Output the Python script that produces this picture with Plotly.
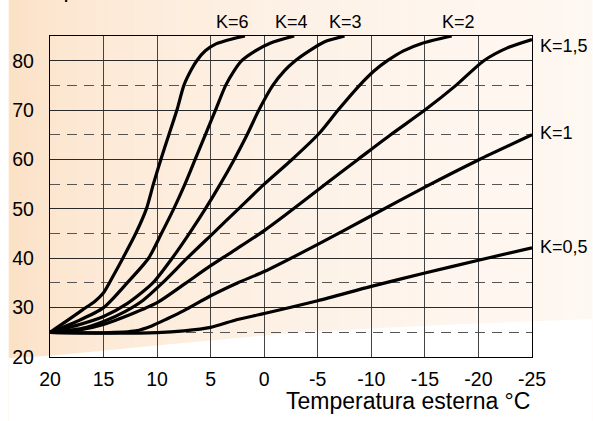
import plotly.graph_objects as go

# ---------------- data ----------------
x_k6 = [20, 18.5, 17, 15.8, 15, 14, 13.2, 12, 11, 10.35, 9.65, 8.9, 8.15, 7.5, 6.8, 6.3, 5.5, 4.5, 3.0, 1.8]
y_k6 = [25, 27.2, 29.5, 31.3, 33, 36.8, 40, 45, 50, 55, 60, 65, 70, 75, 78.2, 80, 82, 83.4, 84.4, 85]

x_k4 = [20, 17.5, 15, 12.8, 10.8, 9.6, 8.45, 7.4, 6.45, 5.5, 4.55, 3.6, 2.8, 2.1, 0.9, -0.6, -2.8]
y_k4 = [25, 27.2, 30, 35, 40, 45, 50, 55, 60, 65, 70, 75, 78, 80, 81.9, 83.6, 85]

x_k3 = [20, 17.5, 15, 12.8, 10.4, 8.6, 7.0, 5.5, 4.1, 2.8, 1.6, 0.5, -0.8, -1.9, -2.9, -4.2, -5.6, -7.5]
y_k3 = [25, 26.4, 28.2, 30.8, 35, 40, 45, 50, 55, 60, 65, 70, 75, 78, 80, 82, 83.8, 85]

x_k2 = [20, 17, 15, 13, 11.3, 9.5, 7.2, 4.8, 2.4, 0, -2.6, -5.1, -6.9, -8.9, -10.3, -11.5, -13, -14.7, -17.5]
y_k2 = [25, 25.8, 27.2, 29.2, 31.5, 35, 40, 45, 50, 55, 60, 65.2, 70, 75, 78, 80, 82, 83.5, 85]

x_k15 = [20, 17, 15, 12.5, 10, 7.5, 5, 2.5, 0, -2, -5.7, -8.75, -11.8, -15, -17.9, -20.5, -22.7, -25]
y_k15 = [25, 25.6, 26.6, 28.6, 31, 34.7, 38.5, 42, 45.6, 48.8, 55, 60, 65, 70, 75, 80, 82.6, 84.3]

x_k1 = [20, 15, 12, 10.5, 9, 7.5, 5, 2.5, 0, -5, -10, -15, -20, -25]
y_k1 = [25, 24.9, 25.3, 26.3, 27.8, 29.4, 32.4, 35, 37.3, 42.8, 48.6, 54.4, 59.9, 65]

x_k05 = [20, 15, 10, 7.5, 5, 2.5, 0, -5, -10, -15, -20, -25]
y_k05 = [25, 24.85, 24.95, 25.3, 26.0, 27.6, 28.8, 31.4, 34.3, 37, 39.6, 42.1]

curve_names = ["K=6", "K=4", "K=3", "K=2", "K=1,5", "K=1", "K=0,5"]

x_ticks = [20, 15, 10, 5, 0, -5, -10, -15, -20, -25]
x_tick_labels = ["20", "15", "10", "5", "0", "-5", "-10", "-15", "-20", "-25"]
y_ticks = [20, 30, 40, 50, 60, 70, 80]
y_dashed = [25, 35, 45, 55, 65, 75]

x_title = "Temperatura esterna °C"
y_title = "Temperatura di mandata °C"

# ---------------- figure ----------------
W, H = 593, 421
ML, MR, MT, MB = 42, 61, 36, 64
PW, PH = W - ML - MR, H - MT - MB

def px_x(p):
    return (p - ML) / PW

def px_y(p):
    return (H - MB - p) / PH

FONT = "Liberation Sans, Arial, Helvetica, sans-serif"

fig = go.Figure()

series = [(x_k6, y_k6), (x_k4, y_k4), (x_k3, y_k3), (x_k2, y_k2),
          (x_k15, y_k15), (x_k1, y_k1), (x_k05, y_k05)]
for (xs, ys), name in zip(series, curve_names):
    fig.add_trace(go.Scatter(
        x=xs, y=ys, mode="lines", name=name,
        line=dict(color="black", width=3.2, shape="spline", smoothing=0.7),
        cliponaxis=False, showlegend=False, hoverinfo="skip"))

# background gradient (decoration)
def lerp(c1, c2, t):
    return tuple(round(a + (b - a) * t) for a, b in zip(c1, c2))

stops = [(0, (251, 224, 196)), (45, (252, 230, 208)), (140, (253, 236, 219)),
         (280, (253, 241, 230)), (430, (254, 245, 237)), (593, (254, 248, 242))]
shapes = []
n = 60
for i in range(n):
    a = W * i / n
    b = W * (i + 1) / n + 0.5
    mid = (a + b) / 2
    for j in range(len(stops) - 1):
        if stops[j][0] <= mid <= stops[j + 1][0]:
            t = (mid - stops[j][0]) / (stops[j + 1][0] - stops[j][0])
            c = lerp(stops[j][1], stops[j + 1][1], t)
            break
    shapes.append(dict(type="rect", xref="paper", yref="paper",
                       x0=px_x(a), x1=px_x(b), y0=px_y(H), y1=px_y(0),
                       fillcolor="rgb(%d,%d,%d)" % c, line=dict(width=0), layer="below"))

white_pts = [(0, 358), (42, 355.7), (150, 345.5), (300, 332), (450, 324.5), (593, 319), (593, 421), (0, 421)]
path = "M " + " L ".join("%.4f,%.4f" % (px_x(a), px_y(b)) for a, b in white_pts) + " Z"
shapes.append(dict(type="path", xref="paper", yref="paper", path=path,
                   fillcolor="white", line=dict(width=0), layer="below"))

annotations = []
# top curve labels (centres in x data units, row just above the frame)
top_label_x = [2.95, -2.55, -7.6, -18.1]
for name, xv in zip(curve_names[:4], top_label_x):
    annotations.append(dict(x=xv, y=px_y(21.5), xref="x", yref="paper", text=name, showarrow=False,
                            font=dict(family=FONT, size=18, color="black"),
                            xanchor="center", yanchor="middle"))
# right curve labels
right_label_y = [83.0, 65.4, 42.2]
for name, yv in zip(curve_names[4:], right_label_y):
    annotations.append(dict(x=1, y=(yv - 20) / 65, xref="paper", yref="paper", text=name, showarrow=False,
                            font=dict(family=FONT, size=18, color="black"),
                            xanchor="left", yanchor="middle", xshift=6))
# axis title
annotations.append(dict(x=1, y=px_y(400.5), xref="paper", yref="paper", text=x_title,
                        showarrow=False, font=dict(family=FONT, size=23, color="black"),
                        xanchor="right", yanchor="middle"))
# y title (mostly outside the picture at the top)
annotations.append(dict(x=px_x(9.5), y=px_y(-11), xref="paper", yref="paper", text=y_title,
                        showarrow=False, font=dict(family=FONT, size=23, color="black"),
                        xanchor="left", yanchor="middle"))

fig.update_layout(
    width=W, height=H,
    margin=dict(l=ML, r=MR, t=MT, b=MB, pad=0),
    paper_bgcolor="white", plot_bgcolor="rgba(0,0,0,0)",
    shapes=shapes, annotations=annotations,
    font=dict(family=FONT, color="black"),
)

fig.update_xaxes(
    range=[20, -25], tickmode="array", tickvals=x_ticks, ticktext=x_tick_labels,
    showgrid=True, gridcolor="#444444", gridwidth=1.2,
    showline=True, linecolor="black", linewidth=1.4, mirror=True,
    ticks="outside", ticklen=4, tickcolor="rgba(0,0,0,0)",
    tickfont=dict(family=FONT, size=19.5, color="black"), zeroline=False,
)
fig.update_yaxes(
    range=[20, 85], tickmode="array", tickvals=y_ticks,
    showgrid=True, gridcolor="#2a2a2a", gridwidth=1.2,
    showline=True, linecolor="black", linewidth=1.4, mirror=True,
    ticks="outside", ticklen=11, tickcolor="rgba(0,0,0,0)",
    tickfont=dict(family=FONT, size=19.5, color="black"), zeroline=False,
    minor=dict(tickmode="array", tickvals=y_dashed, showgrid=True,
               gridcolor="#555555", gridwidth=1.2, griddash="10px,7px", ticks=""),
)

fig.write_html("out.html", config={"displayModeBar": False},
               post_script="document.body.style.margin='0';document.body.style.padding='0';")
